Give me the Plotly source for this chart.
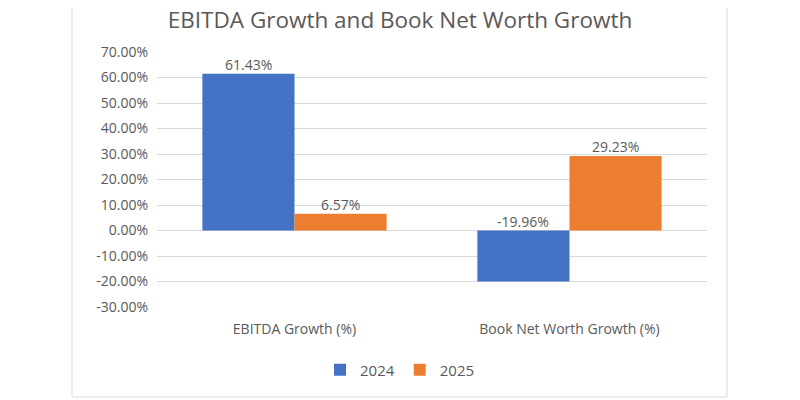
import plotly.graph_objects as go

categories = ["EBITDA Growth (%)", "Book Net Worth Growth (%)"]
years = ["2024", "2025"]
growth_2024 = [0.6143, -0.1996]
growth_2025 = [0.0657, 0.2923]
colors = ["#4472c4", "#ed7d31"]
tick_vals = [-0.3, -0.2, -0.1, 0.0, 0.1, 0.2, 0.3, 0.4, 0.5, 0.6, 0.7]
tick_text = ["{:.2f}%".format(round(t * 100, 2)) for t in tick_vals]

grey = "#595959"
font = "Open Sans"

fig = go.Figure()

bar_w = 0.335
series = [growth_2024, growth_2025]
offsets = [-bar_w, 0]
for name, vals, col, off in zip(years, series, colors, offsets):
    fig.add_trace(go.Bar(x=categories, y=vals, name=name, marker_color=col,
                         width=bar_w, offset=off, marker_line_width=0))
    # data labels, Excel style: above the bar, negative ones sit on the zero line
    for i, v in enumerate(vals):
        fig.add_annotation(x=i + off + bar_w / 2, y=max(v, 0), xref="x", yref="y",
                           text="{:.2f}%".format(v * 100), showarrow=False,
                           yanchor="bottom", yshift=-2,
                           font=dict(family=font, size=14, color=grey))

# page body has an 8px margin, so the figure is drawn 8px right/down
ml, mt, pw, ph = 149, 44, 550, 255

# light grey chart frame
fig.add_shape(type="rect", xref="paper", yref="paper",
              x0=(64 - ml) / pw, x1=(719 - ml) / pw,
              y0=(mt + ph - 389) / ph, y1=(mt + ph + 8) / ph,
              line=dict(color="#d9d9d9", width=1))

fig.update_layout(
    width=800, height=400,
    paper_bgcolor="white", plot_bgcolor="white",
    margin=dict(l=ml, r=800 - ml - pw, t=mt, b=400 - mt - ph),
    title=dict(text="EBITDA Growth and Book Net Worth Growth", x=(400 - 8) / 800,
               xanchor="center", y=0.97, yanchor="middle",
               font=dict(family=font, size=22.5, color=grey)),
    font=dict(family=font, size=14, color=grey),
    showlegend=True,
    legend=dict(orientation="h", x=(400 - 8 - ml) / pw, xanchor="center",
                y=(mt + ph - 362) / ph, yanchor="middle",
                font=dict(family=font, size=15, color=grey)),
)
fig.update_yaxes(range=[-0.3, 0.7], tickvals=tick_vals, ticktext=tick_text,
                 showgrid=True, gridcolor="#d9d9d9", zeroline=False,
                 showline=False, ticks="", ticklabelstandoff=8,
                 tickfont=dict(family=font, size=14, color=grey))
fig.update_xaxes(showgrid=False, showline=False, ticks="", ticklabelstandoff=12,
                 tickfont=dict(family=font, size=14, color=grey))

fig.write_html("out.html")
